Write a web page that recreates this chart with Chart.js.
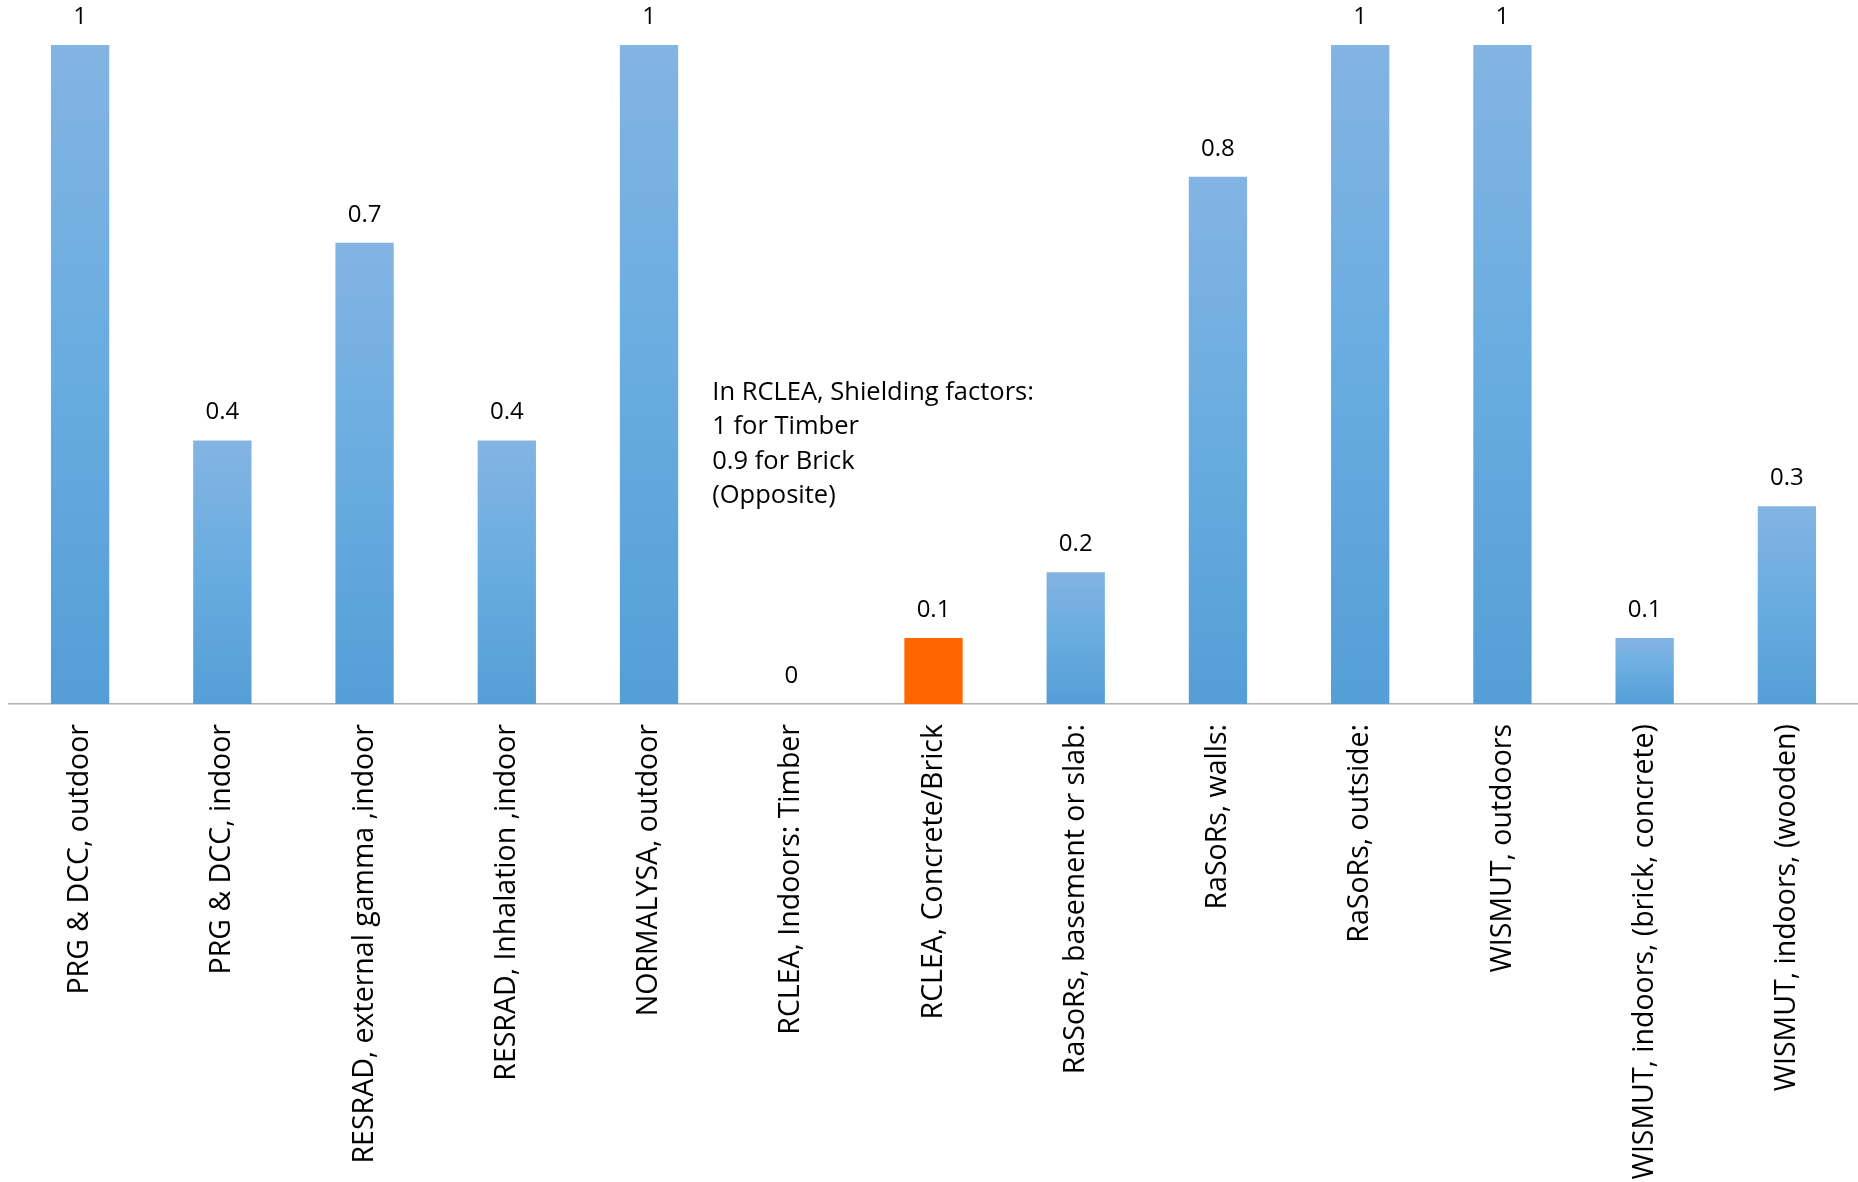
<!DOCTYPE html>
<html>
<head>
<meta charset="utf-8">
<script src="https://cdn.jsdelivr.net/npm/chart.js@4"></script>
<style>
  body { margin: 0; background: #fff; }
  #wrap { width: 1858px; height: 1182px; position: relative; }
</style>
</head>
<body>
<div id="wrap"><canvas id="shieldChart"></canvas></div>
<script>
// categories and values
const categories = [
    'PRG & DCC, outdoor',
    'PRG & DCC, indoor',
    'RESRAD, external gamma ,indoor',
    'RESRAD, Inhalation ,indoor',
    'NORMALYSA, outdoor',
    'RCLEA, Indoors: Timber',
    'RCLEA, Concrete/Brick',
    'RaSoRs, basement or slab:',
    'RaSoRs, walls:',
    'RaSoRs, outside:',
    'WISMUT, outdoors',
    'WISMUT, indoors, (brick, concrete)',
    'WISMUT, indoors, (wooden)'
];
const factors = [1, 0.4, 0.7, 0.4, 1, 0, 0.1, 0.2, 0.8, 1, 1, 0.1, 0.3];
const highlighted = [6]; // orange bar
const noteLines = ['In RCLEA, Shielding factors:', '1 for Timber', '0.9 for Brick', '(Opposite)'];

const FONT = "'Open Sans', 'DejaVu Sans', sans-serif";

// gradient per bar, light at top, darker at the base
function barColor(c) {
    if (highlighted.includes(c.dataIndex)) return '#ff6600';
    const chart = c.chart;
    if (!chart.chartArea || !chart.scales.y) return '#62a6dc';
    const y = chart.scales.y;
    const top = y.getPixelForValue(factors[c.dataIndex]);
    const base = y.getPixelForValue(0);
    if (base - top < 1) return '#62a6dc';
    const g = chart.ctx.createLinearGradient(0, top, 0, base);
    g.addColorStop(0, '#83b4e3');
    g.addColorStop(0.5, '#68ace0');
    g.addColorStop(1, '#559ed6');
    return g;
}

// value labels above the bars
const valueLabels = {
    id: 'valueLabels',
    afterDatasetsDraw(chart) {
        const ctx = chart.ctx;
        const meta = chart.getDatasetMeta(0);
        ctx.save();
        ctx.font = '24px ' + FONT;
        ctx.fillStyle = '#000';
        ctx.textAlign = 'center';
        ctx.textBaseline = 'middle';
        meta.data.forEach((bar, i) => {
            ctx.fillText(String(factors[i]), bar.x, bar.y - 28);
        });
        ctx.restore();
    }
};

// text note next to the RCLEA bars
const noteText = {
    id: 'noteText',
    afterDraw(chart) {
        const ctx = chart.ctx;
        const x = chart.scales.x.getPixelForValue(5) - 79;
        const y0 = chart.scales.y.getPixelForValue(0.473);
        ctx.save();
        ctx.font = '25.5px ' + FONT;
        ctx.fillStyle = '#000';
        ctx.textAlign = 'left';
        ctx.textBaseline = 'middle';
        noteLines.forEach((line, i) => ctx.fillText(line, x, y0 + i * 34.5));
        ctx.restore();
    }
};

new Chart(document.getElementById('shieldChart'), {
    type: 'bar',
    data: {
        labels: categories,
        datasets: [{
            data: factors,
            backgroundColor: barColor,
            borderWidth: 0,
            categoryPercentage: 1,
            barPercentage: 0.41
        }]
    },
    options: {
        responsive: true,
        maintainAspectRatio: false,
        animation: false,
        layout: { padding: { top: 45, left: 9, right: 0, bottom: 0 } },
        plugins: {
            legend: { display: false },
            tooltip: { enabled: false }
        },
        scales: {
            x: {
                grid: { display: false, drawTicks: false },
                border: { display: true, color: '#b3b3b3', width: 1.5 },
                ticks: {
                    color: '#000',
                    font: { family: FONT, size: 28.5 },
                    padding: 20,
                    autoSkip: false,
                    minRotation: 90,
                    maxRotation: 90
                },
                afterFit(scale) { scale.height = 478; }
            },
            y: {
                display: false,
                min: 0,
                max: 1
            }
        }
    },
    plugins: [valueLabels, noteText]
});
</script>
</body>
</html>
